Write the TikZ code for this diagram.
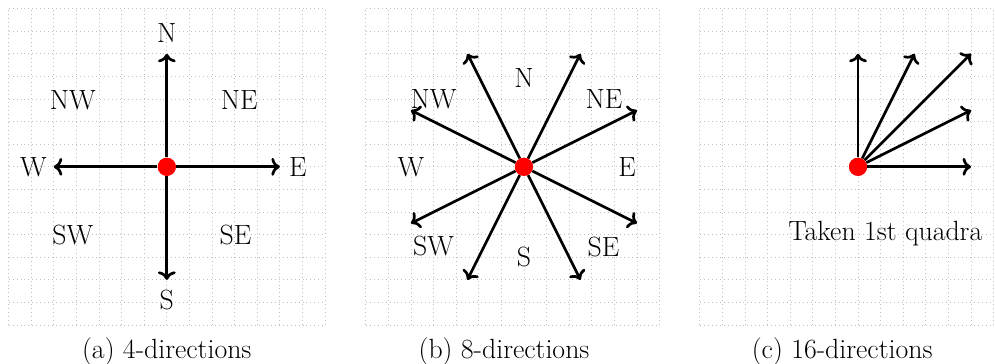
\documentclass[tikz,border=0pt]{standalone}
\usepackage{tikz}
\usetikzlibrary{positioning,arrows.meta}

\begin{document}
\begin{tikzpicture}[
    font=\fontsize{17.5}{20}\selectfont,
    gridline/.style={gray!50, dotted, line width=0.5pt},
    arr/.style={-To, line width=1.7pt},
    dot/.style={circle, fill=red, inner sep=0pt, minimum size=4mm},
    lbl/.style={inner sep=0pt}
]
\useasboundingbox (-3.69,-4.36) rectangle (18.32,3.69);

% (a) 4 directions
\begin{scope}
\draw[gridline] (-3.5,-3.5) grid[step=0.5] (3.5,3.5);
\node[dot] (ca) at (0,0) {};
\coordinate (aN) at (0,2.5);
\coordinate (aS) at (0,-2.5);
\coordinate (aE) at (2.5,0);
\coordinate (aW) at (-2.5,0);
\draw[arr] (ca) -- (aN);
\draw[arr] (ca) -- (aS);
\draw[arr] (ca) -- (aE);
\draw[arr] (ca) -- (aW);
\node[dot] at (0,0) {};
\node[lbl] (laN) at (0,2.95) {N};
\node[lbl] (laS) at (0,-2.95) {S};
\node[lbl] (laE) at (2.9,0) {E};
\node[lbl] (laW) at (-2.95,0) {W};
\node[lbl] (laNW) at (-2.08,1.48) {NW};
\node[lbl] (laNE) at (1.6,1.48) {NE};
\node[lbl] (laSW) at (-2.08,-1.5) {SW};
\node[lbl] (laSE) at (1.52,-1.5) {SE};
\node[anchor=base] (capa) at (0,-4.23) {(a) 4-directions};
\end{scope}

% (b) 8 directions
\begin{scope}[xshift=7.9cm]
\draw[gridline] (-3.5,-3.5) grid[step=0.5] (3,3.5);
\node[dot] (cb) at (0,0) {};
\coordinate (b1) at (2.5,1.25);
\coordinate (b2) at (1.25,2.5);
\coordinate (b3) at (-1.25,2.5);
\coordinate (b4) at (-2.5,1.25);
\coordinate (b5) at (-2.5,-1.25);
\coordinate (b6) at (-1.25,-2.5);
\coordinate (b7) at (1.25,-2.5);
\coordinate (b8) at (2.5,-1.25);
\draw[arr] (cb) -- (b1);
\draw[arr] (cb) -- (b2);
\draw[arr] (cb) -- (b3);
\draw[arr] (cb) -- (b4);
\draw[arr] (cb) -- (b5);
\draw[arr] (cb) -- (b6);
\draw[arr] (cb) -- (b7);
\draw[arr] (cb) -- (b8);
\node[dot] at (0,0) {};
\node[lbl] (lbN) at (0,1.97) {N};
\node[lbl] (lbS) at (0,-2.0) {S};
\node[lbl] (lbE) at (2.28,0) {E};
\node[lbl] (lbW) at (-2.5,0) {W};
\node[lbl] (lbNW) at (-2.0,1.5) {NW};
\node[lbl] (lbNE) at (1.77,1.5) {NE};
\node[lbl] (lbSW) at (-2.0,-1.76) {SW};
\node[lbl] (lbSE) at (1.76,-1.77) {SE};
\node[anchor=base] (capb) at (-0.44,-4.23) {(b) 8-directions};
\end{scope}

% (c) 16 directions, first quadrant only
\begin{scope}[xshift=15.29cm]
\clip (-3.6,-4.4) rectangle (3.03,3.7);
\draw[gridline] (-3.5,-3.5) grid[step=0.5] (3,3.5);
\node[dot] (cc) at (0,0) {};
\coordinate (c1) at (2.5,0);
\coordinate (c2) at (2.5,1.25);
\coordinate (c3) at (2.5,2.5);
\coordinate (c4) at (1.25,2.5);
\coordinate (c5) at (0,2.5);
\draw[arr] (cc) -- (c1);
\draw[arr] (cc) -- (c2);
\draw[arr] (cc) -- (c3);
\draw[arr] (cc) -- (c4);
\draw[arr] (cc) -- (c5);
\node[dot] at (0,0) {};
\node[lbl, anchor=west] (lcq) at (-1.55,-1.48) {Taken 1st quadra};
\node[anchor=base] (capc) at (-0.35,-4.23) {(c) 16-directions};
\end{scope}
\end{tikzpicture}
\end{document}
